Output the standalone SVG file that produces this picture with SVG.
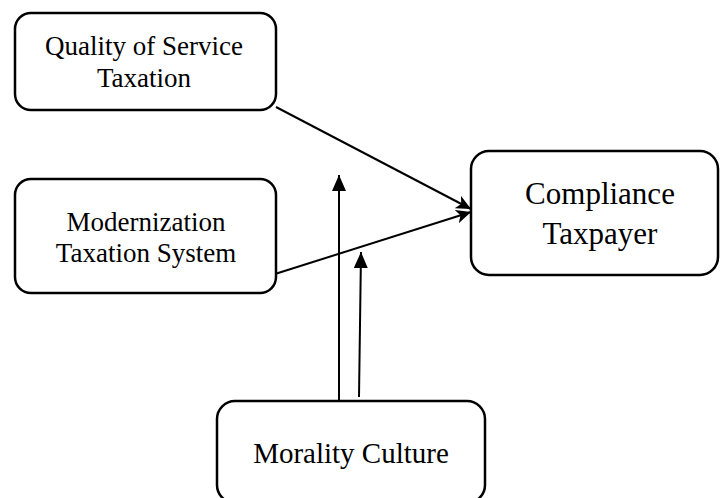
<svg xmlns="http://www.w3.org/2000/svg" width="720" height="498" viewBox="0 0 720 498">
<style>
.box{fill:#fff;stroke:#000;stroke-width:2.5}
.lbl{font-family:"Liberation Serif","Times New Roman",serif;fill:#000;text-anchor:middle}
.edge{stroke:#000;stroke-width:2;fill:none}
</style>
<defs>
<marker id="tri" markerUnits="userSpaceOnUse" markerWidth="16" markerHeight="14" refX="16" refY="7" orient="auto">
<path d="M0,0 L16,7 L0,14 z" fill="#000"/>
</marker>
<marker id="barb" markerUnits="userSpaceOnUse" markerWidth="15" markerHeight="14" refX="15" refY="7" orient="auto">
<path d="M0,0 L15,7 L0,14 L4,7 z" fill="#000"/>
</marker>
</defs>
<rect width="720" height="498" fill="#fff"/>
<g id="connectors">
<line class="edge" x1="276" y1="107" x2="471" y2="209" marker-end="url(#barb)"/>
<line class="edge" x1="275" y1="274" x2="471" y2="212" marker-end="url(#barb)"/>
<line class="edge" x1="339" y1="401" x2="339" y2="175" marker-end="url(#tri)"/>
<line class="edge" x1="359" y1="397" x2="361" y2="252" marker-end="url(#tri)"/>
</g>
<g id="quality">
<rect class="box" x="15" y="13" width="261" height="97" rx="16"/>
<text class="lbl" x="144" y="55" font-size="27">Quality of Service</text>
<text class="lbl" x="144" y="87" font-size="27">Taxation</text>
</g>
<g id="modernization">
<rect class="box" x="15" y="179" width="261" height="114" rx="16"/>
<text class="lbl" x="146" y="231" font-size="27">Modernization</text>
<text class="lbl" x="146" y="262" font-size="27">Taxation System</text>
</g>
<g id="compliance">
<rect class="box" x="471" y="151" width="247" height="124" rx="18"/>
<text class="lbl" x="600" y="204" font-size="31">Compliance</text>
<text class="lbl" x="600" y="244" font-size="31">Taxpayer</text>
</g>
<g id="morality">
<rect class="box" x="217" y="401" width="268" height="102" rx="18"/>
<text class="lbl" x="351" y="463" font-size="29">Morality Culture</text>
</g>
</svg>
